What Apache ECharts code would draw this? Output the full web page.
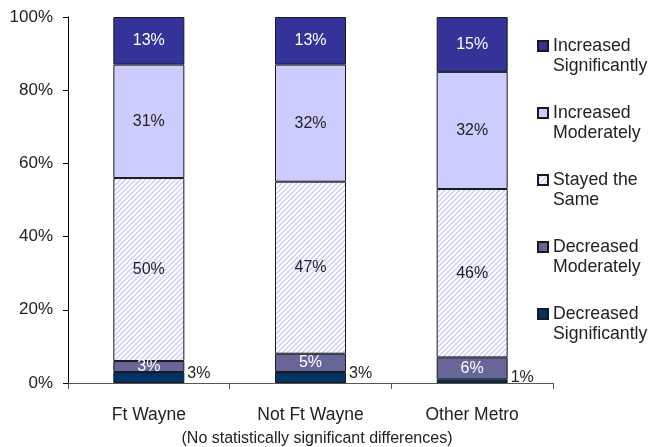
<!DOCTYPE html>
<html>
<head>
<meta charset="utf-8">
<script src="https://cdn.jsdelivr.net/npm/echarts@6/dist/echarts.min.js"></script>
<style>
  html, body { margin: 0; padding: 0; background: #fff; }
  #chart { width: 650px; height: 447px; }
</style>
</head>
<body>
<div id="chart"></div>
<script>
// Survey responses by region (percent of respondents)
const categories = ['Ft Wayne', 'Not Ft Wayne', 'Other Metro'];
const decreasedSignificantly = [3, 3, 1];
const decreasedModerately = [3, 5, 6];
const stayedTheSame = [50, 47, 46];
const increasedModerately = [31, 32, 32];
const increasedSignificantly = [13, 13, 15];
const legendOrder = ['Increased\nSignificantly', 'Increased\nModerately', 'Stayed the\nSame', 'Decreased\nModerately', 'Decreased\nSignificantly'];
const footnote = '(No statistically significant differences)';

const FONT = '"Liberation Sans", Arial, sans-serif';

// Diagonal hatch pattern for the "Stayed the Same" segment
function hatchPattern() {
  const s = 5;
  const c = document.createElement('canvas');
  c.width = s; c.height = s;
  const g = c.getContext('2d');
  g.fillStyle = '#ffffff';
  g.fillRect(0, 0, s, s);
  g.strokeStyle = '#cdcdfa';
  g.lineWidth = 1.5;
  g.beginPath();
  g.moveTo(-s, s * 2); g.lineTo(s * 2, -s);
  g.moveTo(-s, s); g.lineTo(s, -s);
  g.moveTo(0, s * 2); g.lineTo(s * 2, 0);
  g.stroke();
  return { image: c, repeat: 'repeat' };
}

function seg(name, data, color, labelColor, labelPos) {
  return {
    name: name,
    type: 'bar',
    stack: 'total',
    data: data,
    barWidth: 71,
    itemStyle: { color: color, borderColor: '#1a1a1a', borderWidth: 1 },
    label: {
      show: true,
      position: labelPos || 'inside',
      formatter: '{c}%',
      color: labelColor,
      fontFamily: FONT,
      fontSize: 16,
      offset: labelPos === 'right' ? [-2, -4] : [0, 0]
    },
    emphasis: { disabled: true }
  };
}

const chart = echarts.init(document.getElementById('chart'), null, { renderer: 'canvas' });
chart.setOption({
  animation: false,
  grid: { left: 68, right: 97, top: 17, bottom: 64 },
  title: {
    text: footnote,
    left: 317,
    textAlign: 'center',
    top: 431,
    padding: 0,
    textStyle: { fontFamily: FONT, fontSize: 16, fontWeight: 'normal', color: '#222' }
  },
  legend: {
    orient: 'vertical',
    left: 537,
    top: 16,
    padding: 0,
    icon: 'rect',
    itemWidth: 10,
    itemHeight: 10,
    itemGap: 7,
    data: legendOrder,
    // leading blank line keeps the swatch level with the first text line
    formatter: function (name) { return ' \n' + name; },
    textStyle: { fontFamily: FONT, fontSize: 17.7, color: '#222', lineHeight: 20 }
  },
  xAxis: {
    type: 'category',
    data: categories,
    axisLine: { lineStyle: { color: '#555', width: 1 } },
    axisTick: { show: true, length: 6, lineStyle: { color: '#555' } },
    axisLabel: { fontFamily: FONT, fontSize: 17.5, color: '#222', margin: 23 }
  },
  yAxis: {
    type: 'value',
    min: 0,
    max: 100,
    interval: 20,
    axisLine: { show: true, lineStyle: { color: '#000' } },
    axisTick: { show: true, length: 5, lineStyle: { color: '#000' } },
    splitLine: { show: false },
    axisLabel: { formatter: '{value}%', fontFamily: FONT, fontSize: 17, color: '#222', margin: 15 }
  },
  series: [
    seg('Decreased\nSignificantly', decreasedSignificantly, '#003366', '#222', 'right'),
    seg('Decreased\nModerately', decreasedModerately, '#666699', '#fff'),
    seg('Stayed the\nSame', stayedTheSame, hatchPattern(), '#222'),
    seg('Increased\nModerately', increasedModerately, '#ccccff', '#222'),
    seg('Increased\nSignificantly', increasedSignificantly, '#333399', '#fff')
  ]
});
</script>
</body>
</html>
